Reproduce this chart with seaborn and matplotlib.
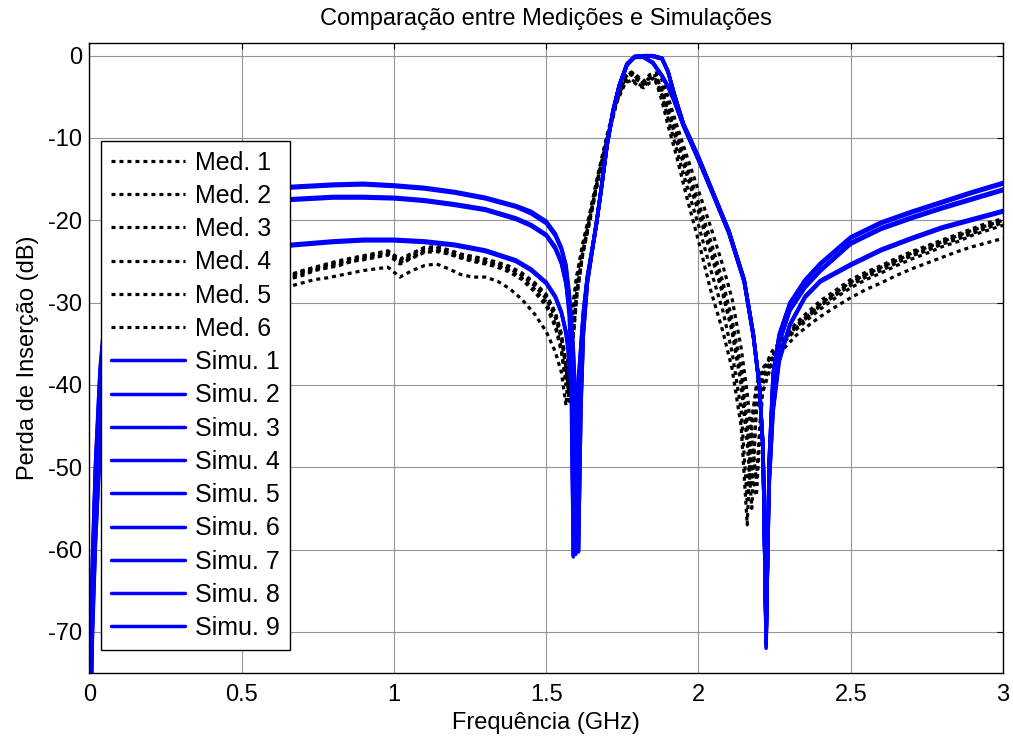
import matplotlib
matplotlib.use("Agg")
import matplotlib.pyplot as plt
import seaborn as sns

TITLE = "Comparação entre Medições e Simulações"
X_LABEL = "Frequência (GHz)"
Y_LABEL = "Perda de Inserção (dB)"

X_TICKS = [0, 0.5, 1, 1.5, 2, 2.5, 3]
X_TICK_LABELS = ["0", "0.5", "1", "1.5", "2", "2.5", "3"]
Y_TICKS = [-70, -60, -50, -40, -30, -20, -10, 0]

# measured curves share one frequency grid (GHz)
MEAS_FREQ = [
    0.62, 0.66, 0.70, 0.74, 0.78, 0.82, 0.86, 0.90, 0.94, 0.98, 1.02, 1.06, 1.10, 1.14, 1.18, 1.22,
    1.26, 1.30, 1.34, 1.38, 1.42, 1.46, 1.50,
    1.53, 1.55, 1.565, 1.575,
    1.585, 1.60, 1.62, 1.645, 1.67, 1.70, 1.73, 1.76, 1.78, 1.80, 1.82, 1.84,
    1.86, 1.88, 1.90, 1.93, 1.96, 2.0, 2.04, 2.08, 2.11, 2.14, 2.16, 2.175, 2.19, 2.21,
    2.24, 2.28, 2.32, 2.36, 2.40, 2.45, 2.50, 2.55, 2.60, 2.65, 2.70, 2.75, 2.80, 2.85, 2.90, 2.95, 3.0,
]

MED_1 = [
    -27.4, -26.8, -26.3, -25.9, -25.5, -25.2, -24.8, -24.5, -24.2, -23.9, -25.0, -24.3, -23.6, -23.4, -23.8, -24.3,
    -24.6, -24.9, -25.3, -25.9, -26.7, -27.9, -29.5,
    -31.8, -34.5, -38.0, -41.0,
    -35.5, -29.0, -24.0, -19.5, -15.0, -10.2, -5.8, -2.6, -2.0, -2.7, -3.3, -2.6,
    -3.1, -5.5, -8.5, -12.5, -17.0, -22.5, -28.5, -33.5, -38.0, -45.0, -57.0, -44.0, -40.5, -38.5,
    -36.0, -34.2, -32.8, -31.5, -30.3, -28.9, -27.6, -26.6, -25.8, -24.9, -24.2, -23.5, -22.7, -22.0, -21.3, -20.7, -20.0,
]
MED_2 = [
    -27.8, -27.1, -26.7, -26.1, -25.8, -25.5, -25.0, -24.8, -24.5, -24.2, -25.3, -24.6, -23.9, -23.8, -24.1, -24.6,
    -25.0, -25.3, -25.7, -26.3, -27.2, -28.6, -30.4,
    -33.0, -36.0, -40.0, -35.5,
    -31.5, -27.0, -23.0, -19.0, -14.6, -9.8, -5.5, -2.9, -2.3, -3.0, -3.5, -2.7,
    -2.9, -4.8, -7.6, -11.6, -15.6, -20.6, -26.0, -31.0, -36.0, -43.0, -54.0, -45.0, -40.0, -38.0,
    -36.6, -34.6, -33.0, -31.7, -30.4, -29.1, -27.9, -26.9, -26.1, -25.2, -24.3, -23.7, -22.9, -22.3, -21.6, -20.9, -20.3,
]
MED_3 = [
    -27.1, -26.6, -26.1, -25.7, -25.3, -24.9, -24.6, -24.3, -24.0, -23.7, -24.7, -24.0, -23.3, -23.2, -23.6, -24.1,
    -24.4, -24.7, -25.1, -25.6, -26.4, -27.5, -29.0,
    -31.2, -33.8, -37.2, -42.0,
    -36.0, -29.5, -24.2, -19.8, -15.2, -10.4, -5.9, -2.5, -2.1, -2.8, -3.4, -2.6,
    -2.4, -4.2, -6.8, -10.6, -14.3, -19.0, -24.0, -29.0, -33.5, -40.0, -47.0, -55.0, -42.5, -39.0,
    -37.0, -34.4, -32.5, -31.1, -29.8, -28.5, -27.2, -26.3, -25.5, -24.6, -23.8, -23.1, -22.4, -21.7, -21.0, -20.3, -19.8,
]
MED_4 = [
    -27.6, -27.0, -26.5, -26.0, -25.7, -25.4, -25.0, -24.7, -24.4, -24.1, -25.1, -24.5, -23.8, -23.6, -24.0, -24.5,
    -24.8, -25.1, -25.5, -26.1, -27.0, -28.3, -30.0,
    -32.6, -35.6, -39.5, -35.0,
    -31.0, -26.8, -22.8, -18.8, -14.4, -9.6, -5.4, -3.2, -2.9, -3.4, -3.8, -3.0,
    -2.6, -3.8, -6.0, -9.6, -13.2, -17.8, -22.5, -27.5, -32.0, -38.0, -44.5, -52.0, -43.0, -39.0,
    -36.8, -34.8, -33.3, -32.0, -30.8, -29.4, -28.2, -27.2, -26.4, -25.5, -24.7, -24.0, -23.2, -22.6, -21.8, -21.2, -20.6,
]
MED_5 = [
    -28.6, -28.0, -27.6, -27.2, -27.0, -26.7, -26.4, -26.1, -25.9, -25.7, -26.9, -26.1, -25.5, -25.3, -25.9, -26.6,
    -26.9, -26.9, -27.4, -28.3, -29.6, -31.3, -33.5,
    -36.0, -38.5, -42.5, -37.0,
    -32.5, -27.8, -23.6, -19.6, -15.0, -10.2, -5.8, -3.3, -3.0, -3.6, -3.9, -3.3,
    -3.2, -4.5, -6.5, -10.0, -13.8, -18.5, -23.5, -28.5, -33.0, -39.0, -45.5, -50.5, -53.5, -41.0,
    -37.5, -35.6, -34.0, -32.8, -31.7, -30.5, -29.4, -28.4, -27.6, -26.7, -25.9, -25.2, -24.5, -23.8, -23.2, -22.7, -22.2,
]
MED_6 = [
    -27.3, -26.7, -26.2, -25.8, -25.4, -25.1, -24.7, -24.4, -24.1, -23.8, -24.8, -24.1, -23.4, -23.3, -23.7, -24.2,
    -24.5, -24.8, -25.2, -25.8, -26.6, -27.7, -29.2,
    -31.4, -34.0, -37.6, -40.5,
    -35.0, -28.8, -23.8, -19.3, -14.8, -10.0, -5.6, -2.4, -2.0, -2.5, -3.1, -2.3,
    -2.1, -2.9, -5.0, -8.6, -12.0, -16.4, -20.8, -25.5, -29.5, -35.5, -41.0, -46.5, -51.5, -40.0,
    -37.2, -34.9, -33.1, -31.6, -30.2, -28.8, -27.5, -26.6, -25.7, -24.9, -24.0, -23.3, -22.6, -21.9, -21.2, -20.6, -20.0,
]

# simulated curves share another grid
SIM_FREQ = [
    0.0, 0.01, 0.02, 0.035, 0.05, 0.075, 0.1, 0.15, 0.2, 0.3, 0.4, 0.5,
    0.6, 0.7, 0.8, 0.9, 1.0, 1.1, 1.2, 1.3, 1.4,
    1.45, 1.5, 1.53, 1.55, 1.565,
    1.575, 1.582, 1.589, 1.597, 1.606, 1.614, 1.622, 1.635, 1.65,
    1.665, 1.68, 1.7, 1.72, 1.74, 1.765, 1.79,
    1.82, 1.85, 1.88, 1.9, 1.92, 1.95, 2.0, 2.05, 2.1, 2.15, 2.18, 2.2,
    2.212, 2.222, 2.232, 2.245, 2.265,
    2.3, 2.35, 2.4, 2.5, 2.6, 2.7, 2.8, 2.9, 3.0,
]

SIMU_1 = [
    -85, -62, -50, -38.5, -32, -26.5, -23.5, -20.2, -18.6, -17.1, -16.5, -16.2,
    -16.1, -15.9, -15.7, -15.6, -15.8, -16.1, -16.6, -17.3, -18.3,
    -19.0, -20.2, -21.7, -23.4, -25.6,
    -29.5, -35.5, -60.8, -46.0, -39.0, -35.0, -31.0, -26.8, -23.6,
    -20.2, -16.2, -10.6, -6.5, -3.5, -1.0, -0.1,
    0.0, 0.0, -0.3, -1.9, -4.6, -8.2, -12.3, -16.8, -21.3, -27.2, -33.8, -40.0,
    -47.5, -72.0, -49.0, -38.5, -33.8,
    -30.1, -27.3, -25.3, -22.1, -20.3, -19.0, -17.8, -16.6, -15.5,
]
SIMU_2 = [
    -86, -63, -50.5, -39, -32.3, -26.8, -23.7, -20.4, -18.7, -17.2, -16.6, -16.3,
    -16.2, -16.0, -15.8, -15.7, -15.9, -16.2, -16.7, -17.4, -18.4,
    -19.2, -20.4, -21.9, -23.6, -25.9,
    -29.0, -33.0, -38.5, -60.5, -44.0, -37.0, -32.0, -27.0, -23.7,
    -20.3, -16.3, -10.7, -6.6, -3.6, -1.0, -0.1,
    -0.2, -0.8, -2.4, -3.7, -5.4, -8.4, -12.6, -17.0, -21.5, -27.4, -34.0, -40.2,
    -47.8, -71.5, -49.5, -38.8, -34.0,
    -30.2, -27.4, -25.4, -22.2, -20.4, -19.1, -17.9, -16.7, -15.6,
]
SIMU_3 = [
    -84, -61, -49.5, -38, -31.8, -26.3, -23.4, -20.1, -18.5, -17.0, -16.4, -16.1,
    -16.0, -15.8, -15.6, -15.5, -15.7, -16.0, -16.5, -17.2, -18.2,
    -18.9, -20.1, -21.6, -23.3, -25.4,
    -28.5, -31.5, -35.5, -42.0, -60.3, -42.0, -33.5, -27.5, -23.9,
    -20.4, -16.4, -10.8, -6.6, -3.6, -1.1, -0.1,
    0.0, -0.1, -0.4, -2.0, -4.7, -8.3, -12.4, -16.9, -21.4, -27.3, -33.9, -40.1,
    -47.6, -71.0, -49.2, -38.6, -33.9,
    -30.0, -27.2, -25.2, -22.0, -20.2, -18.9, -17.7, -16.5, -15.4,
]
SIMU_4 = [
    -86, -64, -52, -41, -34.5, -28.6, -25.1, -21.8, -20.1, -18.7, -18.1, -17.8,
    -17.6, -17.4, -17.2, -17.2, -17.3, -17.6, -18.1, -18.7, -19.8,
    -20.6, -21.8, -23.4, -25.2, -27.6,
    -31.5, -37.0, -60.9, -46.5, -39.5, -35.3, -31.2, -26.9, -23.7,
    -20.3, -16.3, -10.7, -6.6, -3.6, -1.1, -0.2,
    -0.2, -0.9, -2.5, -3.8, -5.5, -8.5, -12.7, -17.1, -21.6, -27.5, -34.1, -40.3,
    -47.7, -71.0, -50.0, -39.5, -34.8,
    -30.9, -28.1, -26.1, -22.8, -21.0, -19.7, -18.5, -17.4, -16.3,
]
SIMU_5 = [
    -85, -63.5, -51.5, -40.5, -34.2, -28.4, -24.9, -21.6, -20.0, -18.6, -18.0, -17.7,
    -17.5, -17.3, -17.1, -17.1, -17.2, -17.5, -18.0, -18.6, -19.7,
    -20.5, -21.7, -23.2, -25.0, -27.3,
    -30.5, -34.0, -39.0, -60.6, -44.5, -37.3, -32.2, -27.1, -23.8,
    -20.3, -16.3, -10.7, -6.6, -3.6, -1.0, -0.1,
    0.0, 0.0, -0.3, -1.9, -4.6, -8.2, -12.3, -16.8, -21.3, -27.2, -33.8, -40.0,
    -47.5, -71.8, -50.2, -39.3, -34.6,
    -30.8, -28.0, -26.0, -22.7, -20.9, -19.6, -18.4, -17.3, -16.2,
]
SIMU_6 = [
    -87, -64.5, -52.5, -41.4, -34.8, -28.8, -25.3, -21.9, -20.2, -18.8, -18.2, -17.9,
    -17.7, -17.5, -17.3, -17.3, -17.4, -17.7, -18.2, -18.8, -19.9,
    -20.7, -21.9, -23.5, -25.3, -27.8,
    -30.5, -32.8, -36.0, -42.5, -60.2, -42.5, -33.8, -27.6, -24.0,
    -20.5, -16.5, -10.9, -6.7, -3.7, -1.1, -0.2,
    -0.2, -0.8, -2.4, -3.7, -5.4, -8.4, -12.6, -17.0, -21.5, -27.4, -34.0, -40.2,
    -47.9, -70.5, -50.3, -39.7, -35.0,
    -31.0, -28.2, -26.2, -22.9, -21.1, -19.8, -18.6, -17.5, -16.4,
]
SIMU_7 = [
    -90, -70, -59, -47.5, -41.5, -35.5, -31.5, -27.8, -26.0, -24.5, -23.8, -23.4,
    -23.2, -22.9, -22.6, -22.4, -22.4, -22.6, -23.0, -23.7, -24.9,
    -26.0, -27.6, -29.3, -31.2, -33.6,
    -36.5, -41.0, -60.7, -47.0, -40.0, -35.6, -31.4, -27.0, -23.8,
    -20.4, -16.4, -10.8, -6.7, -3.7, -1.1, -0.2,
    0.0, 0.0, -0.3, -1.9, -4.6, -8.2, -12.3, -16.8, -21.3, -27.2, -33.8, -40.0,
    -48.0, -70.5, -52.0, -43.0, -37.0,
    -32.7, -29.3, -27.4, -25.4, -23.6, -22.2, -20.9, -19.9, -18.9,
]
SIMU_8 = [
    -91, -71, -59.5, -48, -41.9, -35.8, -31.7, -28.0, -26.1, -24.6, -23.9, -23.5,
    -23.3, -23.0, -22.7, -22.5, -22.5, -22.7, -23.1, -23.8, -25.0,
    -26.1, -27.7, -29.4, -31.3, -33.8,
    -36.8, -40.0, -43.5, -60.4, -45.5, -37.8, -32.5, -27.3, -23.9,
    -20.4, -16.4, -10.8, -6.7, -3.7, -1.1, -0.2,
    -0.2, -0.9, -2.5, -3.8, -5.5, -8.5, -12.7, -17.1, -21.6, -27.5, -34.1, -40.3,
    -48.2, -70.0, -52.3, -43.3, -37.2,
    -32.8, -29.4, -27.5, -25.5, -23.7, -22.3, -21.0, -20.0, -19.0,
]
SIMU_9 = [
    -89, -69, -58.5, -47, -41.1, -35.3, -31.3, -27.7, -25.9, -24.4, -23.7, -23.3,
    -23.1, -22.8, -22.5, -22.3, -22.3, -22.5, -22.9, -23.6, -24.8,
    -25.9, -27.5, -29.2, -31.1, -33.5,
    -36.3, -39.0, -41.5, -45.0, -60.2, -43.0, -34.0, -27.8, -24.0,
    -20.5, -16.5, -10.9, -6.8, -3.8, -1.2, -0.2,
    0.0, -0.1, -0.4, -2.0, -4.7, -8.3, -12.4, -16.9, -21.4, -27.3, -33.9, -40.1,
    -48.1, -71.2, -51.8, -42.8, -36.8,
    -32.6, -29.2, -27.3, -25.3, -23.5, -22.1, -20.8, -19.8, -18.8,
]

MEASUREMENTS = [MED_1, MED_2, MED_3, MED_4, MED_5, MED_6]
SIMULATIONS = [SIMU_1, SIMU_2, SIMU_3, SIMU_4, SIMU_5, SIMU_6, SIMU_7, SIMU_8, SIMU_9]


def setup_style() -> None:
    sns.set_style("white")
    plt.rcParams["font.family"] = ["Liberation Sans", "DejaVu Sans"]
    plt.rcParams["axes.unicode_minus"] = False
    plt.rcParams["font.size"] = 17
    for key in ("text.color", "axes.labelcolor", "xtick.color", "ytick.color"):
        plt.rcParams[key] = "black"


def main() -> None:
    setup_style()
    fig = plt.figure(figsize=(10.13, 7.42), dpi=100)
    ax = fig.add_axes([0.0882, 0.093, 0.9020, 0.8486])

    for i, values in enumerate(MEASUREMENTS, start=1):
        sns.lineplot(
            x=MEAS_FREQ, y=values, ax=ax, color="black", linewidth=2.3,
            linestyle=(0, (1.25, 1.25)), estimator=None, sort=False, label=f"Med. {i}",
        )
    for i, values in enumerate(SIMULATIONS, start=1):
        sns.lineplot(
            x=SIM_FREQ, y=values, ax=ax, color="#0000FF", linewidth=2.5,
            estimator=None, sort=False, label=f"Simu. {i}",
        )

    ax.set_xlim(0, 3)
    ax.set_ylim(-75, 1.5)
    ax.set_xticks(X_TICKS)
    ax.set_xticklabels(X_TICK_LABELS)
    ax.set_yticks(Y_TICKS)
    ax.grid(True, color="#959595", linewidth=0.8)
    ax.tick_params(direction="in", length=4, width=0.8, top=True, right=True,
                   labelsize=17, colors="black")
    ax.tick_params(axis="x", pad=8)
    ax.tick_params(axis="y", pad=5)
    for spine in ax.spines.values():
        spine.set_color("black")
        spine.set_linewidth(1.0)

    ax.set_title(TITLE, fontsize=17, pad=13)
    ax.set_xlabel(X_LABEL, fontsize=17, labelpad=4)
    ax.set_ylabel(Y_LABEL, fontsize=17, labelpad=7)

    leg = ax.legend(
        loc="lower left", bbox_to_anchor=(0.0128, 0.0365), borderaxespad=0,
        fontsize=18, frameon=True, fancybox=False, framealpha=1, edgecolor="black",
        handlelength=2.96, handletextpad=0.4, labelspacing=0.37, borderpad=0.4,
    )
    leg.get_frame().set_linewidth(1.0)

    fig.savefig("out.png", dpi=100)
    plt.close(fig)


if __name__ == "__main__":
    main()
